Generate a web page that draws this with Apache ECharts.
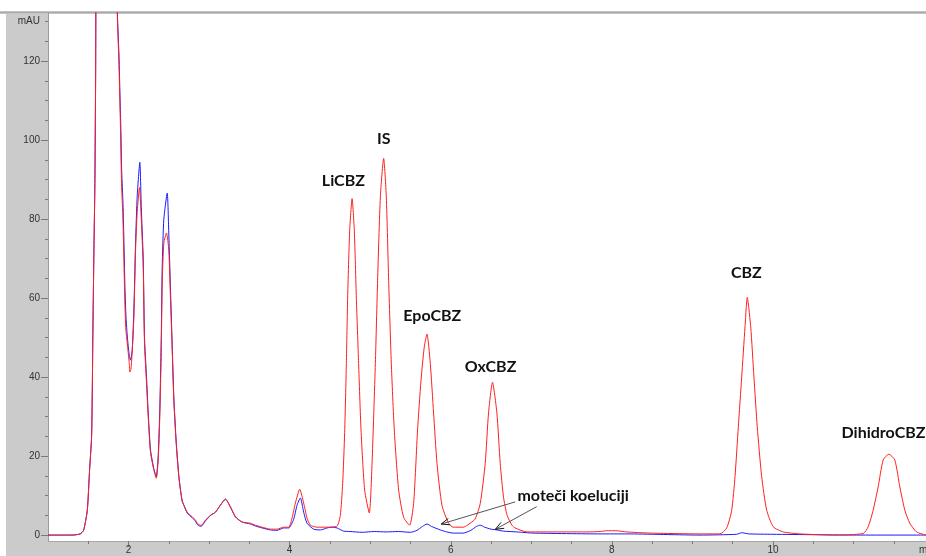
<!DOCTYPE html>
<html><head><meta charset="utf-8">
<script src="https://cdn.jsdelivr.net/npm/echarts@6/dist/echarts.min.js"></script>
<style>html,body{margin:0;padding:0;background:#fff;overflow:hidden}#c{width:926px;height:556px}</style>
</head><body><div id="c"></div>
<script>
// ---- data (time in min, signal in mAU) ----
const redTime = [1.00,1.30,1.40,1.442,1.488,1.516,1.541,1.550,1.557,1.570,1.582,1.591,1.600,1.720,1.850,1.860,1.880,1.892,1.901,1.913,
  1.929,1.942,1.954,1.967,1.984,2.009,2.016,2.030,2.046,2.066,2.087,2.108,2.136,2.158,2.182,2.198,2.223,2.244,2.273,2.314,
  2.344,2.368,2.388,2.406,2.418,2.438,2.471,2.500,2.521,2.542,2.562,2.592,2.624,2.645,2.666,2.686,2.728,2.790,2.831,2.852,
  2.893,2.914,2.955,2.996,3.017,3.079,3.141,3.203,3.265,3.327,3.410,3.513,3.575,3.658,3.761,3.844,3.926,3.988,4.030,4.071,
  4.125,4.174,4.216,4.257,4.340,4.464,4.589,4.629,4.658,4.683,4.704,4.720,4.745,4.775,4.803,4.828,4.856,4.886,4.931,4.989,
  5.023,5.064,5.092,5.126,5.167,5.200,5.229,5.262,5.299,5.353,5.415,5.489,5.539,5.588,5.630,5.671,5.705,5.746,5.787,5.829,
  5.891,5.973,6.031,6.155,6.205,6.300,6.366,6.428,6.469,6.518,6.573,6.614,6.655,6.700,6.760,6.800,6.945,7.441,7.689,7.854,
  7.937,8.050,8.185,8.474,9.094,9.343,9.426,9.488,9.529,9.570,9.612,9.653,9.681,9.724,9.764,9.805,9.860,9.922,10.004,10.128,
  10.335,10.744,11.120,11.182,11.244,11.306,11.368,11.439,11.513,11.575,11.637,11.699,11.782,11.900];
const redSignal = [0.0,0.0,0.3,1.2,6.3,16.4,24.8,36.7,51.0,72.0,89.0,115,150,260,150,132,120,110,102,89,
  81,70,59,52,48.6,43.5,41.3,42.0,46.8,55,72,82,88,80,68,48.6,38.5,30,20.8,16.5,
  14.4,19,30,46.8,63.8,74,76.5,72,59.5,46.8,34,23,14.7,11.4,8.6,7.6,5.8,4.6,3.8,3.0,
  2.5,2.6,3.8,4.6,5.0,5.8,7.6,9.1,7.1,4.6,3.3,3.0,2.5,2.0,1.5,1.5,2.0,2.0,4.3,8.1,
  11.6,8.1,4.3,2.5,2.0,2.0,2.3,5.0,13,26,43.5,60,77,85.2,77,60,43.5,26.6,11.4,5.6,
  18.2,43.5,64.5,85.6,95.4,85.6,64.5,43.5,26.6,11.4,4.5,2.5,8,26.6,39,47.6,50.9,43.5,30.9,18.2,
  7.5,3.0,2.0,2.0,2.5,4.0,8.0,18.2,30.9,38.7,30.9,18.2,9.6,5.0,2.5,1.8,0.8,0.8,0.8,0.9,
  1.1,1.1,0.8,0.5,0.3,0.3,1.8,6.3,14.8,27.4,40,52.7,60.2,52.7,40,27.4,14.8,6.3,2.1,0.8,
  0.3,0.0,0.4,2.1,6.3,12.2,19,20.5,19,12.2,6.3,3.0,0.8,0.0];

const blueTime = [1.00,1.30,1.40,1.442,1.488,1.516,1.541,1.550,1.557,1.570,1.582,1.591,1.600,1.720,1.852,1.862,1.882,1.894,1.903,1.915,
  1.931,1.944,1.956,1.969,1.986,2.009,2.025,2.046,2.066,2.087,2.108,2.140,2.158,2.182,2.198,2.223,2.244,2.273,2.314,2.344,
  2.368,2.388,2.406,2.418,2.438,2.480,2.500,2.521,2.542,2.562,2.592,2.624,2.645,2.666,2.686,2.728,2.790,2.831,2.852,2.893,
  2.914,2.955,2.996,3.017,3.079,3.141,3.203,3.265,3.327,3.410,3.513,3.575,3.658,3.761,3.844,3.926,3.988,4.050,4.092,4.133,
  4.174,4.216,4.298,4.381,4.464,4.526,4.589,4.670,4.750,4.900,5.050,5.200,5.350,5.500,5.580,5.650,5.705,5.760,5.870,5.950,
  6.031,6.155,6.250,6.320,6.366,6.420,6.500,6.573,6.655,6.821,7.023,7.854,8.185,9.094,9.550,9.612,9.700,10.000,10.500,11.000,11.900];
const blueSignal = [0,0,0.3,1.2,6.3,16.4,24.8,36.7,51,72,89,115,150,260,150,132,121,111,104,92,
  84,73,62,55,50,45.5,44.3,47,57,74,86,94.4,83,70,50,40,31,21.5,16.8,14.8,
  20,32,50,68,80,86.6,76,62,48,35,23.5,15,11.4,8.6,7.6,5.6,4.4,3.5,2.7,2.2,
  2.4,3.6,4.5,5.0,5.8,7.6,9.1,7.1,4.6,3.3,2.8,2.3,1.8,1.3,1.2,1.8,1.8,4.0,7.6,9.4,
  5.8,3.0,1.5,1.3,1.8,2.0,1.8,1.0,0.9,0.7,0.9,0.8,0.9,0.7,1.2,2.2,2.8,2.2,1.3,0.8,
  0.5,0.5,1.2,2.2,2.5,2.0,1.5,1.3,1.0,0.8,0.5,0.3,0.3,0.0,0.2,0.6,0.3,0.2,0.1,0.0,0.0];

const xTickValues = [2, 4, 6, 8, 10];
const xMinorTicks = [1.5,2,2.5,3,3.5,4,4.5,5,5.5,6,6.5,7,7.5,8,8.5,9,9.5,10,10.5,11,11.5];
const yTickValues = [0, 20, 40, 60, 80, 100, 120, 130];
const yUnitLabel = 'mAU';
const xUnitLabel = 'min';
const yMinorTicks = [0,5,10,15,20,25,30,35,40,45,50,55,60,65,70,75,80,85,90,95,100,105,110,115,120,125,130];
const peakNames = ['LiCBZ', 'IS', 'EpoCBZ', 'OxCBZ', 'CBZ', 'DihidroCBZ'];
const interferenceText = 'moteči koeluciji';

// ---- annotation anchors (data coordinates) ----
const peakLabelAnchors = [[4.667, 89.8], [5.169, 100.4], [5.771, 55.4], [6.494, 42.7], [9.669, 66.5], [10.852, 25.9]];
const peakLabelAlign = ['center', 'center', 'center', 'center', 'center', 'left'];
const interferenceAnchor = [7.519, 9.9];
const arrowSegments = [[[6.800, 8.4], [5.882, 2.8]], [[7.068, 7.2], [6.553, 1.45]]];

const chart = echarts.init(document.getElementById('c'), null, {renderer: 'canvas'});
const redData = redTime.map((t, i) => [t, redSignal[i]]);
const blueData = blueTime.map((t, i) => [t, blueSignal[i]]);
const FONT = '"Liberation Sans", Arial, sans-serif';
const TICK = '#7a7a7a';

const option = {
  animation: false,
  backgroundColor: '#ffffff',
  grid: {left: 48, right: 0, top: 13, bottom: 15, containLabel: false},
  xAxis: [{
    type: 'value', min: 1, max: 11.9, position: 'bottom',
    axisLine: {show: true, onZero: false, lineStyle: {color: '#a8a8a8', width: 1}},
    axisTick: {show: true, customValues: xMinorTicks, length: 3, lineStyle: {color: TICK}},
    axisLabel: {show: true, customValues: xTickValues, formatter: v => String(v), color: '#333', fontSize: 10, fontFamily: FONT, margin: 4},
    splitLine: {show: false}
  }, {
    type: 'value', min: 1, max: 11.9, position: 'bottom',
    axisLine: {show: false, onZero: false},
    axisTick: {show: true, customValues: xTickValues, length: 6, lineStyle: {color: TICK}},
    axisLabel: {show: false}, splitLine: {show: false}
  }],
  yAxis: [{
    type: 'value', min: -1.5, max: 132.2, position: 'left',
    axisLine: {show: true, onZero: false, lineStyle: {color: '#9a9a9a', width: 1}},
    axisTick: {show: true, customValues: yMinorTicks, length: 3, lineStyle: {color: TICK}},
    axisLabel: {show: true, customValues: yTickValues, formatter: v => (v === 130 ? yUnitLabel : String(v)), color: '#333', fontSize: 10, fontFamily: FONT, margin: 8},
    splitLine: {show: false}
  }, {
    type: 'value', min: -1.5, max: 132.2, position: 'left',
    axisLine: {show: false, onZero: false},
    axisTick: {show: true, customValues: yTickValues.slice(0, 7), length: 7, lineStyle: {color: TICK}},
    axisLabel: {show: false}, splitLine: {show: false}
  }],
  series: [{
    type: 'line', name: 'blank', data: blueData, xAxisIndex: 0, yAxisIndex: 0,
    showSymbol: false, symbol: 'none', smooth: 0.2, clip: true, z: 2,
    lineStyle: {color: '#1a1aff', width: 1}
  }, {
    type: 'line', name: 'sample', data: redData, xAxisIndex: 0, yAxisIndex: 0,
    showSymbol: false, symbol: 'none', smooth: 0.2, clip: true, z: 3,
    lineStyle: {color: '#ff1f1f', width: 1}
  }],
  graphic: [
    {type: 'rect', id: 'bgL', z: -10, silent: true, shape: {x: 6, y: 13, width: 42, height: 543}, style: {fill: '#cbcbcb'}},
    {type: 'rect', id: 'bgB', z: -10, silent: true, shape: {x: 6, y: 541, width: 920, height: 15}, style: {fill: '#cbcbcb'}},
    {type: 'rect', id: 'topA', z: -9, silent: true, shape: {x: 0, y: 11, width: 926, height: 3}, style: {fill: '#c4c4c4'}},
    {type: 'rect', id: 'topB', z: -8, silent: true, shape: {x: 0, y: 12, width: 926, height: 1}, style: {fill: '#a9a9a9'}}
  ]
};
chart.setOption(option);

const px = p => chart.convertToPixel({seriesIndex: 1}, p);
const extra = [];
peakNames.forEach((name, i) => {
  const p = px(peakLabelAnchors[i]);
  extra.push({type: 'text', id: 'pk' + i, z: 20, x: p[0], y: p[1],
    style: {text: name, font: 'bold 16px Lato, "Open Sans", sans-serif', fill: '#111',
      align: peakLabelAlign[i], verticalAlign: 'middle', textAlign: peakLabelAlign[i], textVerticalAlign: 'middle'}});
});
const ip = px(interferenceAnchor);
extra.push({type: 'text', id: 'intf', z: 20, x: ip[0], y: ip[1],
  style: {text: interferenceText, font: 'bold 16px Lato, "Open Sans", sans-serif', fill: '#111',
    align: 'center', verticalAlign: 'middle', textAlign: 'center', textVerticalAlign: 'middle'}});
arrowSegments.forEach((seg, i) => {
  const a = px(seg[0]), b = px(seg[1]);
  const ang = Math.atan2(a[1] - b[1], a[0] - b[0]);
  const L = 9, w = 0.38;
  const h1 = [b[0] + L * Math.cos(ang + w), b[1] + L * Math.sin(ang + w)];
  const h2 = [b[0] + L * Math.cos(ang - w), b[1] + L * Math.sin(ang - w)];
  extra.push({type: 'line', id: 'ar' + i, z: 19, shape: {x1: a[0], y1: a[1], x2: b[0], y2: b[1]}, style: {stroke: '#555', lineWidth: 1}});
  extra.push({type: 'polyline', id: 'ah' + i, z: 19, shape: {points: [h1, b, h2]}, style: {stroke: '#111', lineWidth: 1, fill: null}});
});
// axis unit at the right end of the time axis (cut by the window edge as in the original)
const mp = px([11.9, -1.5]);
extra.push({type: 'text', id: 'xunit', z: 20, x: mp[0] - 7, y: mp[1] + 9,
  style: {text: xUnitLabel, font: '10px "Liberation Sans", Arial, sans-serif', fill: '#333', align: 'left', verticalAlign: 'middle', textAlign: 'left', textVerticalAlign: 'middle'}});
chart.setOption({graphic: extra});
</script>
</body></html>
